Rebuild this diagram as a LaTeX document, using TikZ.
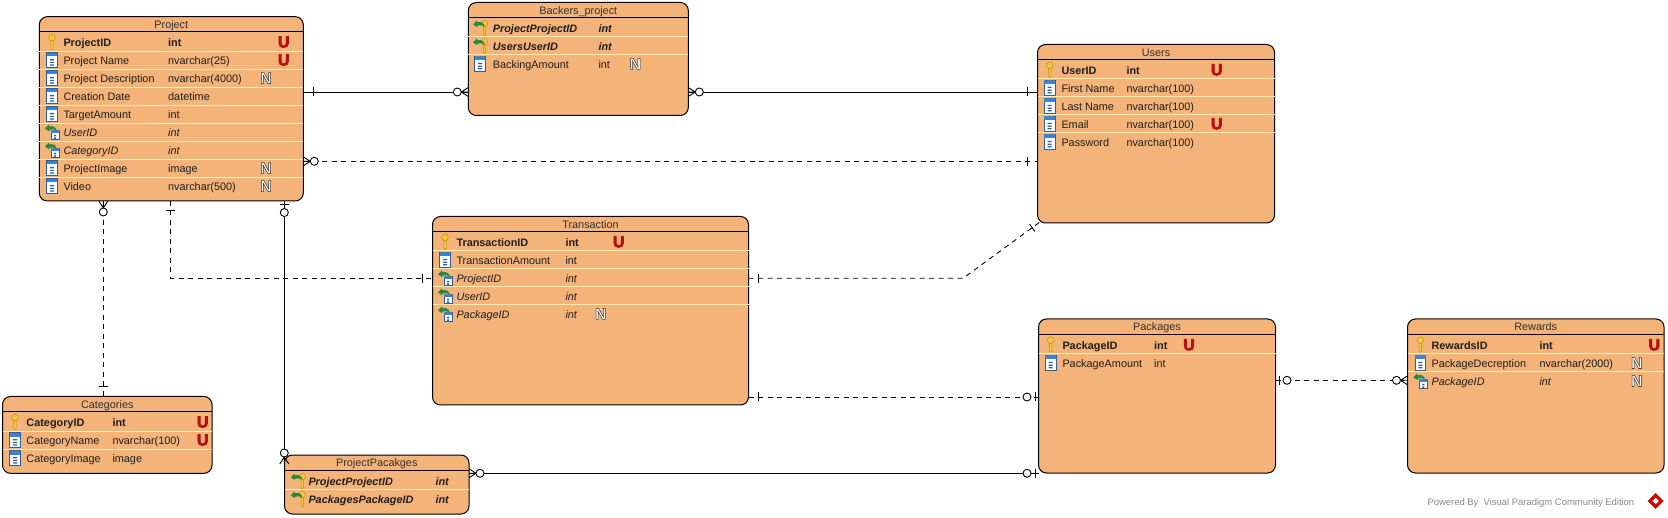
\documentclass[tikz,border=0pt]{standalone}
\usepackage{fontspec}
\setmainfont{Liberation Sans}
\newcounter{cellno}
\definecolor{tblfill}{RGB}{244,179,120}
\definecolor{seprow}{RGB}{255,240,176}
\definecolor{txtc}{RGB}{30,30,30}
\definecolor{ttlc}{RGB}{50,50,50}
\definecolor{arrgreen}{RGB}{40,135,65}
\definecolor{colblue}{RGB}{60,130,210}
\definecolor{coledge}{RGB}{45,95,160}
\definecolor{keyfill}{RGB}{245,205,50}
\definecolor{keyedge}{RGB}{190,140,20}
\tikzset{
  tbl/.style={draw=black,line width=1pt,fill=tblfill,rounded corners=8pt,inner sep=0pt,outer sep=0pt},
  ttl/.style={inner sep=0pt,anchor=base,text=ttlc,font=\fontsize{10.85}{12}\selectfont},
  cell/.style={inner sep=0pt,anchor=base west,text=txtc,font=\fontsize{10.85}{12}\selectfont},
  rel/.style={line width=.9pt,black},
  reldash/.style={rel,dash pattern=on 5pt off 4.5pt},
  crowzero/.pic={
    \draw[line width=.9pt] (7,0)--(0,0) (0,-4.5)--(7,0)--(0,4.5);
    \draw[line width=.9pt,fill=white] (11,0) circle (4);},
  barone/.pic={\draw[line width=.9pt] (9.7,-4.5)--(9.7,4.5);},
  zerobar/.pic={
    \draw[line width=.9pt] (3.5,-4.5)--(3.5,4.5);
    \draw[line width=.9pt,fill=white] (11.5,0) circle (4);},
  keyicon/.pic={
    \fill[draw=keyedge,line width=.5pt,fill=keyfill] (-1.2,-2) -- (-1.2,6.5) -- (0,7.8) -- (1.2,6.5) -- (1.2,-2) -- cycle;
    \fill[draw=keyedge,line width=.5pt,fill=keyfill] (0,-4.5) circle (3.3);
    \fill[tblfill] (0,-5.3) circle (1);},
  colicon/.pic={
    \fill[white,draw=coledge,line width=.7pt] (-5.3,-7.3) rectangle (5.3,7.3);
    \fill[colblue] (-5.3,-7.3) rectangle (5.3,-3.5);
    \fill[coledge] (-2,-.8) rectangle (2,.4) (-2,1.8) rectangle (2,3) (-2,4.4) rectangle (2,5.6);},
  arrowicon/.pic={
    \fill[arrgreen] (-7,-3.5) -- (-3,-7.5) -- (-3,-5.5) .. controls (1,-6.5) and (4,-5) .. (5,-1) .. controls (3,-3) and (0,-3.2) .. (-3,-2) -- (-3,-.5) -- cycle;},
  fkicon/.pic={
    \fill[white,draw=coledge,line width=.6pt] (-1,-1.5) rectangle (7,7.5);
    \fill[colblue] (-1,-1.5) rectangle (7,1.2);
    \fill[coledge] (2,3) rectangle (4,4.5) (2,5.5) rectangle (4,7);
    \pic {arrowicon};},
  pfkicon/.pic={
    \begin{scope}[shift={(4.5,.5)}]\pic {keyicon};\end{scope}
    \pic {arrowicon};},
}
\newcommand{\etable}[8]{%
  \pgfmathsetmacro{\cx}{(#2+#4)/2}\pgfmathsetmacro{\cy}{(#3+#5)/2}%
  \pgfmathsetmacro{\cw}{#4-#2}\pgfmathsetmacro{\ch}{#5-#3}%
  \node[tbl,minimum width=\cw pt,minimum height=\ch pt] (#1) at (\cx,\cy) {};
  \pgfmathsetmacro{\tb}{#3+11.8}%
  \node[ttl] (#1title) at (\cx,\tb) {#6};
  \draw[line width=1pt,black] (#1.west |- 0,#7) -- (#1.east |- 0,#7);
  \foreach \k in {1,...,#8}{\pgfmathsetmacro{\sy}{#7+19.3+18*(\k-1)}%
    \draw[line width=.9pt,seprow] (#1.west |- 0,\sy) -- (#1.east |- 0,\sy);}%
  \gdef\curH{#7}%
}
\newcommand{\colsat}[3]{\gdef\icx{#1}\gdef\nmx{#2}\gdef\tyx{#3}}
\newcommand{\erow}[5]{%
  \pgfmathsetmacro{\by}{\curH+15+18*(#1-1)}\pgfmathsetmacro{\iy}{\curH+10.3+18*(#1-1)}%
  \pic at (\icx,\iy) {#2};
  \stepcounter{cellno}\node[cell,#3] (n\thecellno) at (\nmx,\by) {#4};
  \stepcounter{cellno}\node[cell,#3] (n\thecellno) at (\tyx,\by) {#5};
}
\newcommand{\markU}[2]{%
  \pgfmathsetmacro{\by}{\curH+15.8+18*(#2-1)}\stepcounter{cellno}%
  \node[inner sep=0pt,anchor=base,font=\fontsize{16}{16}\bfseries] (n\thecellno) at (#1,\by) {\special{pdf:code q 2 Tr 0.7 w 0.72 0.06 0.06 RG 0.72 0.06 0.06 rg}U\special{pdf:code Q}};
}
\newcommand{\markN}[2]{%
  \pgfmathsetmacro{\by}{\curH+16+18*(#2-1)}\stepcounter{cellno}%
  \node[inner sep=0pt,anchor=base,font=\fontsize{16}{16}\bfseries] (n\thecellno) at (#1,\by) {\special{pdf:code q 2 Tr 0.5 w 0.2 0.2 0.22 RG 1 1 1 rg}N\special{pdf:code Q}};
}
\begin{document}
\begin{tikzpicture}[x=1pt,y=-1pt]
\useasboundingbox (0,0) rectangle (1668,518);
\tikzset{bi/.style={font=\fontsize{10.85}{12}\selectfont\bfseries\itshape},
 bo/.style={font=\fontsize{10.85}{12}\selectfont\bfseries},
 it/.style={font=\fontsize{10.85}{12}\selectfont\itshape},
 pl/.style={}}
% tables
\etable{project}{39.3}{16.7}{303.3}{201}{Project}{31.7}{8}
\colsat{52}{63.3}{168}
\erow{1}{keyicon}{bo}{ProjectID}{int}\markU{283.7}{1}
\erow{2}{colicon}{pl}{Project Name}{nvarchar(25)}\markU{283.7}{2}
\erow{3}{colicon}{pl}{Project Description}{nvarchar(4000)}\markN{266}{3}
\erow{4}{colicon}{pl}{Creation Date}{datetime}
\erow{5}{colicon}{pl}{TargetAmount}{int}
\erow{6}{fkicon}{it}{UserID}{int}
\erow{7}{fkicon}{it}{CategoryID}{int}
\erow{8}{colicon}{pl}{ProjectImage}{image}\markN{266}{8}
\erow{9}{colicon}{pl}{Video}{nvarchar(500)}\markN{266}{9}

\etable{backers}{468.3}{2.5}{688.3}{115.5}{Backers\_project}{17.5}{2}
\colsat{480}{492.7}{598.3}
\erow{1}{pfkicon}{bi}{ProjectProjectID}{int}
\erow{2}{pfkicon}{bi}{UsersUserID}{int}
\erow{3}{colicon}{pl}{BackingAmount}{int}\markN{635.3}{3}

\etable{categories}{2.5}{396.5}{212}{473.3}{Categories}{411.7}{2}
\colsat{15}{26.3}{112.3}
\erow{1}{keyicon}{bo}{CategoryID}{int}\markU{202.7}{1}
\erow{2}{colicon}{pl}{CategoryName}{nvarchar(100)}\markU{202.7}{2}
\erow{3}{colicon}{pl}{CategoryImage}{image}

\etable{pp}{284.5}{455}{469}{514}{ProjectPacakges}{470.5}{1}
\colsat{297.7}{308.3}{435.3}
\erow{1}{pfkicon}{bi}{ProjectProjectID}{int}
\erow{2}{pfkicon}{bi}{PackagesPackageID}{int}

\etable{users}{1037.5}{44.5}{1274.5}{223}{Users}{59.5}{4}
\colsat{1049.7}{1061.3}{1126.3}
\erow{1}{keyicon}{bo}{UserID}{int}\markU{1216.7}{1}
\erow{2}{colicon}{pl}{First Name}{nvarchar(100)}
\erow{3}{colicon}{pl}{Last Name}{nvarchar(100)}
\erow{4}{colicon}{pl}{Email}{nvarchar(100)}\markU{1216.7}{4}
\erow{5}{colicon}{pl}{Password}{nvarchar(100)}

\etable{transaction}{432.5}{216.5}{748.5}{405}{Transaction}{231.5}{4}
\colsat{445}{456.3}{565.3}
\erow{1}{keyicon}{bo}{TransactionID}{int}\markU{618.7}{1}
\erow{2}{colicon}{pl}{TransactionAmount}{int}
\erow{3}{fkicon}{it}{ProjectID}{int}
\erow{4}{fkicon}{it}{UserID}{int}
\erow{5}{fkicon}{it}{PackageID}{int}\markN{600.7}{5}

\etable{packages}{1038.5}{319}{1275.5}{473}{Packages}{334.5}{1}
\colsat{1050.7}{1062.3}{1154}
\erow{1}{keyicon}{bo}{PackageID}{int}\markU{1189}{1}
\erow{2}{colicon}{pl}{PackageAmount}{int}

\etable{rewards}{1407.5}{319}{1664}{473}{Rewards}{334.5}{2}
\colsat{1420.3}{1431.3}{1539.3}
\erow{1}{keyicon}{bo}{RewardsID}{int}\markU{1654.3}{1}
\erow{2}{colicon}{pl}{PackageDecreption}{nvarchar(2000)}\markN{1636.7}{2}
\erow{3}{fkicon}{it}{PackageID}{int}\markN{1636.7}{3}

% connector ends
\coordinate (a1) at (project.east |- 0,92);
\coordinate (b1) at (backers.west |- 0,92);
\coordinate (a2) at (backers.east |- 0,92);
\coordinate (b2) at (users.west |- 0,92);
\coordinate (a3) at (project.east |- 0,161.3);
\coordinate (b3) at (users.west |- 0,161.3);
\coordinate (a4) at (103.3,201);
\coordinate (b4) at (103.3,396.5);
\coordinate (a5) at (170.3,201);
\coordinate (m5) at (170.3,278.3);
\coordinate (b5) at (transaction.west |- 0,278.3);
\coordinate (a6) at (284.3,201);
\coordinate (b6) at (284.3,464);
\coordinate (a7) at (transaction.east |- 0,278.3);
\coordinate (m7) at (963,278.3);
\coordinate (b7) at (1040,222);
\coordinate (a8) at (transaction.east |- 0,397);
\coordinate (b8) at (packages.west |- 0,397);
\coordinate (a9) at (469,473.3);
\coordinate (b9) at (1038.5,473.3);
\coordinate (a10) at (packages.east |- 0,380.3);
\coordinate (b10) at (rewards.west |- 0,380.3);
% connectors
\draw[rel] (a1) -- (b1);
\draw[rel] (a2) -- (b2);
\draw[reldash] (a3) -- (b3);
\draw[reldash] (a4) -- (b4);
\draw[reldash] (a5) -- (m5) -- (b5);
\draw[rel] (a6) -- (b6);
\draw[reldash] (a7) -- (m7) -- (b7);
\draw[reldash] (a8) -- (b8);
\draw[rel] (a9) -- (b9);
\draw[reldash] (a10) -- (b10);
% end marks
\pic[rotate=0] at (a1) {barone};
\pic[rotate=180] at (b1) {crowzero};
\pic[rotate=0] at (a2) {crowzero};
\pic[rotate=180] at (b2) {barone};
\pic[rotate=0] at (a3) {crowzero};
\pic[rotate=180] at (b3) {barone};
\pic[rotate=270] at (a4) {crowzero};
\pic[rotate=90] at (b4) {barone};
\pic[rotate=270] at (a5) {barone};
\pic[rotate=180] at (b5) {barone};
\pic[rotate=270] at (a6) {zerobar};
\pic[rotate=90] at (b6) {crowzero};
\pic[rotate=0] at (a7) {barone};
\pic[rotate=216] at (b7) {barone};
\pic[rotate=0] at (a8) {barone};
\pic[rotate=180] at (b8) {zerobar};
\pic[rotate=0] at (a9) {crowzero};
\pic[rotate=180] at (b9) {zerobar};
\pic[rotate=0] at (a10) {zerobar};
\pic[rotate=180] at (b10) {crowzero};
% watermark
\node[inner sep=0pt,anchor=base west,text=black!47,font=\fontsize{9.45}{12}\selectfont] (powered) at (1427.3,505.5) {Powered By\ \ Visual Paradigm Community Edition};
\fill[red!75!black!90!orange] (1655.7,493) -- (1663.7,501) -- (1655.7,509) -- (1647.7,501) -- cycle;
\fill[white] (1655.7,498) -- (1659,501) -- (1655.7,504) -- (1652.4,501) -- cycle;
\end{tikzpicture}
\end{document}
